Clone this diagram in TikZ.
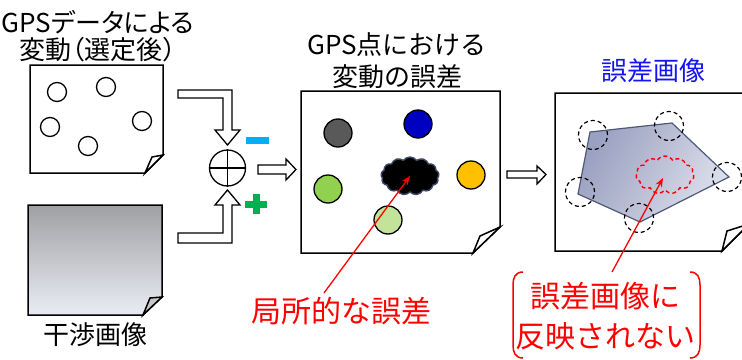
\documentclass[tikz,border=0pt]{standalone}
\usepackage{fontspec}
\setmainfont{Noto Sans CJK JP}
\newfontfamily\jpp{Noto Sans CJK JP}[RawFeature=+palt]
\usetikzlibrary{shapes.symbols,arrows.meta,calc}
\definecolor{errred}{HTML}{FF0000}
\definecolor{titleblue}{HTML}{1414F0}
\definecolor{minusblue}{HTML}{00B0F0}
\definecolor{plusgreen}{HTML}{00B050}
\definecolor{cdark}{HTML}{595959}
\definecolor{cblue}{HTML}{0000C0}
\definecolor{cgreen}{HTML}{92D050}
\definecolor{clgreen}{HTML}{C3E39B}
\definecolor{corange}{HTML}{FFC000}
\definecolor{gdark}{HTML}{7A7A7A}
\definecolor{glight}{HTML}{E6E8F0}
\definecolor{polyL}{HTML}{9AA0C0}
\definecolor{polyR}{HTML}{DDE0EC}
\definecolor{polyline}{HTML}{4F5878}
\definecolor{cloudline}{HTML}{3C4766}
\pgfdeclareverticalshading{papergrad}{100bp}{color(0bp)=(glight); color(28bp)=(glight); color(100bp)=(gdark)}
\tikzset{
  paperline/.style={draw=black, line width=1.5pt, line join=miter},
  hollow/.style={draw=black, fill=white, line width=1.3pt, line join=miter},
  spot/.style={circle, draw=black, line width=1.3pt, minimum size=19pt, inner sep=0pt, fill=white},
  bigspot/.style={circle, draw=black, line width=1.3pt, minimum size=28pt, inner sep=0pt},
  dashring/.style={circle, draw=black, line width=1.2pt, dash pattern=on 4pt off 3pt, minimum size=29pt, inner sep=0pt},
  title/.style={inner sep=0pt, align=center},
  redlabel/.style={inner sep=0pt, align=center, text=errred},
  redarrow/.style={draw=errred, line width=1.3pt, -{Stealth[length=9pt,width=7pt]}},
}
\begin{document}
\begin{tikzpicture}[x=1pt,y=-1pt]
\useasboundingbox (0,0) rectangle (742,359);
\fill[white] (0,0) rectangle (742,359);

% ---------- paper 1 : GPS data ----------
\node[title, font=\jpp\fontsize{26}{27}\selectfont] (t1) at (98,36) {GPSデータによる\\変動（選定後）};
\draw[paperline, fill=white] (30,65) -- (163,65) -- (163,155) -- (145,173) -- (30,173) -- cycle;
\draw[paperline, fill=white] (145,173) -- (152,157) -- (163,155) -- cycle;
\node[spot] (p1) at (57,92) {};
\node[spot] (p2) at (106,87) {};
\node[spot] (p3) at (50,127) {};
\node[spot] (p4) at (142,121) {};
\node[spot] (p5) at (88,146) {};

% ---------- paper 2 : interferogram ----------
\path[shading=papergrad] (28,205) -- (162,205) -- (162,297) -- (143,315) -- (28,315) -- cycle;
\draw[paperline] (28,205) -- (162,205) -- (162,297) -- (143,315) -- (28,315) -- cycle;
\draw[paperline, fill=black!22] (143,315) -- (150,298) -- (162,297) -- cycle;
\node[title, font=\fontsize{26}{28}\selectfont] (t2) at (95,335) {干渉画像};

% ---------- combination ----------
\draw[hollow] (178,90) -- (232,90) -- (232,130) -- (240,130) -- (227.5,145) -- (215,130) -- (223,130) -- (223,98) -- (178,98) -- cycle;
\draw[hollow] (178,243) -- (232,243) -- (232,205) -- (240,205) -- (227.5,190) -- (215,205) -- (223,205) -- (223,233) -- (178,233) -- cycle;
\node[circle, draw=black, line width=1.3pt, minimum size=36pt, inner sep=0pt] (op) at (227.5,168) {};
\draw[line width=1.3pt] (op.north) -- (op.south) (op.west) -- (op.east);
\fill[minusblue] (246,137) rectangle (269,144);
\fill[plusgreen] (245,200.5) rectangle (267,207.5);
\fill[plusgreen] (252.5,194) rectangle (259.5,214);
\draw[hollow] (258,165) -- (286,165) -- (286,159) -- (296,169.5) -- (286,180) -- (286,174) -- (258,174) -- cycle;

% ---------- paper 3 : errors at GPS points ----------
\node[title, font=\fontsize{26}{32}\selectfont] (t3) at (397,61) {GPS点における\\変動の誤差};
\draw[paperline, fill=white] (301,91) -- (500,91) -- (500,227) -- (473,253) -- (301,253) -- cycle;
\draw[paperline, fill=white] (473,253) -- (480,236) -- (500,227) -- cycle;
\node[bigspot, fill=cdark] (g1) at (338,133) {};
\node[bigspot, fill=cblue] (g2) at (418,124) {};
\node[bigspot, fill=cgreen] (g3) at (328,189) {};
\node[bigspot, fill=clgreen] (g4) at (388,220) {};
\node[bigspot, fill=corange] (g5) at (471,175) {};
\node[cloud, cloud puffs=13, cloud puff arc=110, aspect=1.6, fill=black, draw=cloudline, line width=1.4pt, minimum width=58pt, minimum height=38pt, inner sep=0pt] (cl1) at (410,176) {};

% ---------- arrow to paper 4 ----------
\draw[hollow] (507,171) -- (537,171) -- (537,166) -- (546,174.5) -- (537,184) -- (537,178) -- (507,178) -- cycle;

% ---------- paper 4 : error image ----------
\node[title, font=\fontsize{26}{28}\selectfont, text=titleblue] (t4) at (653,71) {誤差画像};
\draw[paperline, fill=white] (555,93) -- (749,93) -- (749,224) -- (722,251) -- (555,251) -- cycle;
\draw[paperline, fill=white] (722,251) -- (727,231) -- (749,224) -- cycle;
\shade[left color=polyL, right color=polyR, shading angle=60] (590,132) -- (672,123) -- (729,177) -- (640,222) -- (578,194) -- cycle;
\draw[polyline, line width=1.2pt, line join=miter] (590,132) -- (672,123) -- (729,177) -- (640,222) -- (578,194) -- cycle;
\node[dashring] (r1) at (593,135) {};
\node[dashring] (r2) at (669,126) {};
\node[dashring] (r3) at (727,177) {};
\node[dashring] (r4) at (639,218) {};
\node[dashring] (r5) at (580,192) {};
\node[cloud, cloud puffs=11, cloud puff arc=120, aspect=1.6, draw=errred, line width=1.4pt, dash pattern=on 4pt off 3pt, minimum width=58pt, minimum height=38pt, inner sep=0pt] (cl2) at (665,175) {};

% ---------- red labels ----------
\node[redlabel, font=\fontsize{30}{32}\selectfont] (lab1) at (341,311) {局所的な誤差};
\coordinate (lab1tip) at (324,293);
\draw[redarrow] (lab1tip) -- (cl1.center);

\node[redlabel, font=\fontsize{30}{40}\selectfont] (lab2) at (605,316) {誤差画像に\\反映されない};
\coordinate (lab2tip) at (612,272);
\draw[redarrow] (lab2tip) -- ($(cl2.center)+(-2,3)$);
\draw[errred, line width=1.5pt] (523,272) .. controls (515,272) and (513,278) .. (513,285) -- (513,345) .. controls (513,352) and (515,358) .. (523,358);
\draw[errred, line width=1.5pt] (690,272) .. controls (698,272) and (700,278) .. (700,285) -- (700,345) .. controls (700,352) and (698,358) .. (690,358);
\end{tikzpicture}
\end{document}
